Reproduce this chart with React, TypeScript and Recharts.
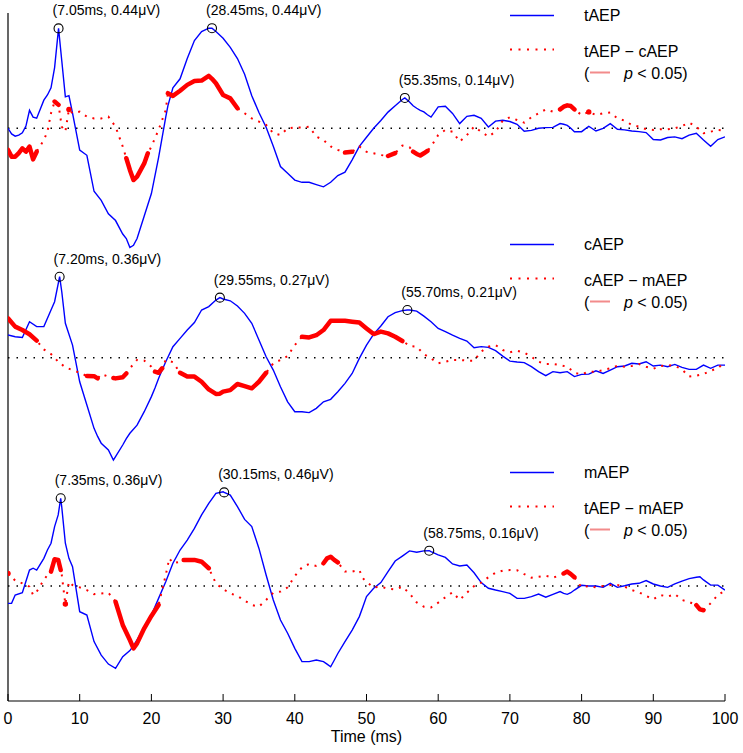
import { ComposedChart, Line, XAxis, YAxis, ReferenceLine, ReferenceDot } from "recharts";
import { JSX } from "react";

// ---- panel 1: tAEP and tAEP - cAEP ----
const p1Time = [
  0, 0.5, 1, 1.5, 2, 2.5, 3, 3.5, 4, 5, 5.5, 6, 6.5, 7.05, 7.5, 8, 8.5, 9,
  10, 11, 12, 13, 14, 15, 16, 16.5, 17, 17.5, 18, 19, 19.5, 20, 21, 22, 22.3,
  23, 24, 25, 26, 27, 28, 28.45, 29, 30, 31, 32, 33, 34, 35, 36, 37, 38, 39, 40,
  41, 42, 43, 44, 45, 46, 47, 48, 49, 50, 51, 52, 53, 54, 55, 55.35, 56, 56.5, 57, 57.5, 58, 58.5, 59, 60,
  61, 62, 63, 64, 65, 66, 67, 68, 69, 70, 71, 72, 73, 74, 75, 76,
  77, 77.5, 78, 78.5, 79, 80, 81, 82, 83, 84, 85, 86, 87, 88, 89, 90, 91, 92, 93, 94, 95, 96, 97, 98, 99, 100,
];
const p1tAEP = [
  0.0, -0.025, -0.035, -0.03, -0.02, 0.01, 0.08, 0.05, 0.045, 0.125, 0.148, 0.18, 0.27, 0.444, 0.3, 0.14, 0.145, 0.067,
  -0.097, -0.12, -0.28, -0.32, -0.38, -0.41, -0.47, -0.49, -0.53, -0.52, -0.49, -0.39, -0.34, -0.29, -0.13, 0.05, 0.1,
  0.18, 0.22, 0.31, 0.39, 0.43, 0.445, 0.445, 0.43, 0.4, 0.36, 0.31, 0.24, 0.145, 0.07, 0.005, -0.08, -0.17, -0.2, -0.23,
  -0.24, -0.24, -0.25, -0.26, -0.24, -0.21, -0.195, -0.14, -0.08, -0.04, 0.0, 0.035, 0.072, 0.1, 0.128, 0.135, 0.117, 0.1, 0.089, 0.08, 0.073, 0.06, 0.05, 0.095,
  0.098, 0.066, 0.021, 0.053, 0.058, 0.044, 0.006, 0.032, 0.036, 0.03, 0.018, -0.013, -0.009, 0.0, 0.003, 0.004,
  0.021, 0.018, 0.013, 0.0, -0.015, -0.015, 0.009, -0.012, 0.0, 0.021, -0.004, -0.007, -0.012, -0.015, -0.019, -0.05, -0.052, -0.041, -0.038, -0.046, -0.03, -0.022, -0.052, -0.08, -0.05, -0.038,
];
const p1Diff = [
  -0.096, -0.126, -0.126, -0.11, -0.089, -0.104, -0.081, -0.138, -0.104, -0.052, -0.015, 0.067, 0.119, 0.104, 0.007, -0.015, 0.084, 0.067,
  0.074, 0.052, 0.044, 0.044, 0.052, 0.007, -0.081, -0.133, -0.185, -0.23, -0.215, -0.156, -0.111, -0.081, -0.007, 0.081, 0.156,
  0.144, 0.167, 0.193, 0.21, 0.212, 0.233, 0.22, 0.2, 0.148, 0.133, 0.089, 0.067, 0.044, 0.03, 0.015, -0.022, -0.03, 0.0, 0.004,
  0.004, 0.007, -0.037, -0.052, -0.081, -0.096, -0.108, -0.104, -0.081, -0.104, -0.111, -0.119, -0.123, -0.11, -0.077, -0.079, -0.084, -0.104, -0.114, -0.121, -0.111, -0.1, -0.081, -0.03,
  -0.007, -0.015, -0.059, -0.03, 0.007, -0.015, -0.037, -0.015, 0.034, 0.049, 0.037, 0.025, 0.049, 0.067, 0.084, 0.074,
  0.084, 0.096, 0.102, 0.099, 0.084, 0.059, 0.073, 0.059, 0.067, 0.07, 0.044, 0.034, 0.015, 0.007, -0.004, -0.007, -0.004, -0.004, 0.0, 0.01, 0.025, 0.007, -0.022, -0.015, -0.007, -0.01,
];
const p1Sig = [[0, 4], [6.5, 7.05], [8.5, 8.5], [16.5, 19.5], [22.3, 32], [47, 48], [53, 54], [56.5, 58.5], [77, 79], [81, 81]];
const p1PeakTimes = [7.05, 28.45, 55.35];
const p1PeakLabels = ["(7.05ms, 0.44\u03bcV)", "(28.45ms, 0.44\u03bcV)", "(55.35ms, 0.14\u03bcV)"];

// ---- panel 2: cAEP and cAEP - mAEP ----
const p2Time = [
  0, 1, 2, 3, 4, 5, 6, 6.5, 7.2, 7.5, 8, 9,
  10, 11, 12, 12.5, 13, 14, 14.7, 15, 16, 16.5, 17, 18, 19, 20, 20.5, 21, 21.5, 22,
  23, 24, 25, 26, 27, 28, 29, 29.55, 30, 31, 32, 33, 34, 35, 36, 37, 38, 39, 40,
  41, 42, 43, 44, 45, 46, 47, 48, 49, 50, 51, 52, 53, 54, 55, 55.7, 56, 57, 58, 59, 60,
  61, 62, 63, 64, 65, 66, 67, 68, 69, 70, 71, 72, 73, 74, 75, 76, 77, 78, 79, 80,
  81, 82, 83, 84, 85, 86, 87, 88, 89, 90, 91, 92, 93, 94, 95, 96, 97, 98, 99, 100,
];
const p2cAEP = [
  0.101, 0.093, 0.09, 0.16, 0.138, 0.138, 0.212, 0.249, 0.36, 0.293, 0.153, 0.056,
  -0.107, -0.21, -0.314, -0.35, -0.38, -0.41, -0.455, -0.44, -0.388, -0.36, -0.336, -0.3, -0.24, -0.173, -0.135, -0.092, -0.055, -0.018,
  0.049, 0.086, 0.123, 0.156, 0.212, 0.227, 0.256, 0.267, 0.261, 0.253, 0.23, 0.197, 0.153, 0.079, 0.004, -0.055, -0.129, -0.196, -0.24,
  -0.24, -0.244, -0.225, -0.196, -0.185, -0.151, -0.114, -0.07, -0.003, 0.056, 0.105, 0.141, 0.182, 0.2, 0.209, 0.212, 0.212, 0.207, 0.185, 0.16, 0.13,
  0.116, 0.1, 0.086, 0.074, 0.044, 0.049, 0.046, 0.031, 0.007, -0.015, -0.019, -0.022, -0.04, -0.062, -0.08, -0.062, -0.067, -0.062, -0.084, -0.074,
  -0.073, -0.058, -0.07, -0.055, -0.04, -0.037, -0.025, -0.028, -0.018, -0.037, -0.033, -0.04, -0.03, -0.043, -0.052, -0.052, -0.033, -0.047, -0.033, -0.033,
];
const p2Diff = [
  0.175, 0.138, 0.123, 0.104, 0.076, 0.037, 0.016, 0.0, -0.025, -0.03, -0.043, -0.055,
  -0.067, -0.081, -0.082, -0.092, -0.073, -0.084, -0.09, -0.092, -0.087, -0.07, -0.047, -0.01, -0.013, -0.04, -0.062, -0.067, -0.047, -0.01,
  -0.02, -0.067, -0.084, -0.084, -0.107, -0.141, -0.161, -0.16, -0.151, -0.144, -0.117, -0.126, -0.136, -0.107, -0.067, -0.025, -0.01, 0.007, 0.056,
  0.093, 0.09, 0.1, 0.123, 0.164, 0.164, 0.164, 0.16, 0.156, 0.13, 0.105, 0.116, 0.108, 0.093, 0.074, 0.06, 0.052, 0.049, 0.016, -0.003, -0.025,
  -0.018, -0.01, -0.01, -0.013, -0.013, 0.027, 0.049, 0.056, 0.034, 0.024, 0.031, 0.022, 0.004, -0.018, -0.028, -0.028, -0.033, -0.04, -0.067, -0.074,
  -0.062, -0.062, -0.055, -0.047, -0.036, -0.04, -0.037, -0.028, -0.04, -0.049, -0.037, -0.033, -0.036, -0.052, -0.084, -0.08, -0.073, -0.058, -0.047, -0.018,
];
const p2Sig = [[0, 4], [11, 12], [12.5, 12.5], [14.7, 16.5], [20.5, 21.5], [24, 36], [41, 55]];
const p2PeakTimes = [7.2, 29.55, 55.7];
const p2PeakLabels = ["(7.20ms, 0.36\u03bcV)", "(29.55ms, 0.27\u03bcV)", "(55.70ms, 0.21\u03bcV)"];

// ---- panel 3: mAEP and tAEP - mAEP ----
const p3Time = [
  0, 0.5, 1, 2, 3, 3.5, 4, 5, 5.5, 6, 6.5, 7, 7.35, 7.5, 8, 8.5, 9,
  10, 11, 12, 13, 14, 15, 16, 17, 17.5, 18, 19, 20, 21, 22, 22.5,
  23, 24, 24.5, 25, 26, 27, 28, 29, 30, 30.15, 31, 32, 33, 34, 35, 36, 37, 38, 39, 40,
  41, 42, 43, 44, 44.5, 45, 45.5, 46, 47, 48, 49, 49.5, 50,
  51, 52, 53, 54, 55, 56, 57, 58, 58.75, 59, 60, 61, 62, 63, 64, 65, 66, 67, 68, 69, 70, 71, 72, 73, 74, 75, 76, 77,
  77.5, 78, 78.5, 79, 80, 81, 82, 83, 84, 85, 86, 87, 88, 89, 90, 91, 92, 93, 94, 95, 96, 96.5, 97, 98, 99, 100,
];
const p3mAEP = [
  -0.077, -0.077, -0.04, -0.03, 0.071, 0.079, 0.071, 0.123, 0.16, 0.19, 0.264, 0.316, 0.39, 0.35, 0.19, 0.123, 0.086,
  -0.114, -0.129, -0.247, -0.307, -0.347, -0.366, -0.314, -0.287, -0.265, -0.24, -0.181, -0.129, -0.055, 0.019, 0.06,
  0.101, 0.16, 0.182, 0.204, 0.256, 0.316, 0.367, 0.412, 0.419, 0.416, 0.404, 0.353, 0.296, 0.264, 0.167, 0.049, -0.062, -0.151, -0.21, -0.277,
  -0.336, -0.336, -0.329, -0.336, -0.347, -0.359, -0.33, -0.3, -0.247, -0.196, -0.136, -0.092, -0.047,
  -0.01, 0.015, 0.064, 0.111, 0.133, 0.156, 0.15, 0.156, 0.157, 0.153, 0.138, 0.127, 0.098, 0.089, 0.093, 0.059, 0.015, -0.01, -0.018, -0.025, -0.033, -0.055, -0.055, -0.047, -0.036, -0.05, -0.037, -0.025,
  -0.033, -0.037, -0.03, -0.018, 0.003, 0.0, 0.0, -0.006, 0.012, -0.006, 0.001, 0.009, 0.012, 0.024, 0.009, 0.0, -0.006, 0.009, 0.022, 0.033, 0.039, 0.041, 0.027, 0.004, 0.004, -0.018,
];
const p3Diff = [
  0.056, 0.041, 0.024, 0.012, -0.003, -0.04, -0.025, 0.027, 0.049, 0.064, 0.119, 0.116, 0.071, 0.049, -0.08, 0.019, 0.004,
  -0.006, -0.018, -0.036, -0.033, -0.03, -0.07, -0.173, -0.24, -0.277, -0.255, -0.188, -0.133, -0.084, 0.049, 0.123,
  0.101, 0.108, 0.116, 0.116, 0.116, 0.108, 0.079, 0.012, -0.015, -0.017, -0.033, -0.044, -0.065, -0.084, -0.092, -0.062, -0.03, -0.025, -0.006, 0.044,
  0.083, 0.098, 0.089, 0.101, 0.123, 0.13, 0.116, 0.105, 0.064, 0.064, 0.071, 0.034, 0.019,
  -0.007, -0.003, -0.012, -0.015, -0.003, -0.033, -0.073, -0.092, -0.095, -0.095, -0.074, -0.05, -0.028, -0.062, -0.03, 0.0, 0.015, 0.039, 0.059, 0.068, 0.071, 0.07, 0.053, 0.037, 0.041, 0.046, 0.037, 0.047,
  0.056, 0.064, 0.053, 0.039, -0.006, 0.0, -0.006, 0.0, 0.004, 0.004, -0.003, -0.018, -0.028, -0.044, -0.059, -0.04, -0.047, -0.036, -0.062, -0.071, -0.085, -0.104, -0.108, -0.077, -0.04, -0.021,
];
const p3Sig = [[0, 0], [6, 7.35], [8, 8], [15, 21], [24.5, 28], [44, 46], [77.5, 79], [96, 97]];
const p3PeakTimes = [7.35, 30.15, 58.75];
const p3PeakLabels = ["(7.35ms, 0.36\u03bcV)", "(30.15ms, 0.46\u03bcV)", "(58.75ms, 0.16\u03bcV)"];

const legendNames = [
  ["tAEP", "tAEP \u2212 cAEP"],
  ["cAEP", "cAEP \u2212 mAEP"],
  ["mAEP", "tAEP \u2212 mAEP"],
];
const xTicks = [0, 10, 20, 30, 40, 50, 60, 70, 80, 90, 100];

// layout (page pixels, the svg sits at 0,0)
const W = 743;
const H = 753;
const MARGIN = { top: 13, right: 18, left: 8, bottom: 0 };
const X_AXIS_H = 52;
const PLOT_H = H - MARGIN.top - MARGIN.bottom - X_AXIS_H;
const PX_PER_UV = 225;
const BASELINES = [115.3, 344.7, 573]; // zero line of each panel, px below plot top
const LEGEND_Y = [21, 250, 478];
const FONT = "'Liberation Sans', Arial, Helvetica, sans-serif";

type Row = { t: number; aep: number; diff: number; sig: number | null };

function buildRows(time: number[], aep: number[], diff: number[], sig: number[][]): Row[] {
  return time.map((t, i) => ({
    t,
    aep: aep[i],
    diff: diff[i],
    sig: sig.some(([a, b]) => t >= a && t <= b) ? diff[i] : null,
  }));
}

const panels = [
  { id: "p1", rows: buildRows(p1Time, p1tAEP, p1Diff, p1Sig), peaks: p1PeakTimes, labels: p1PeakLabels },
  { id: "p2", rows: buildRows(p2Time, p2cAEP, p2Diff, p2Sig), peaks: p2PeakTimes, labels: p2PeakLabels },
  { id: "p3", rows: buildRows(p3Time, p3mAEP, p3Diff, p3Sig), peaks: p3PeakTimes, labels: p3PeakLabels },
];

function domainFor(offset: number): [number, number] {
  const max = offset / PX_PER_UV;
  return [max - PLOT_H / PX_PER_UV, max];
}

function TimeTick(props: any): JSX.Element {
  const { x, y, payload } = props;
  return (
    <g>
      <line x1={x} x2={x} y1={y} y2={y - 7} stroke="#000" strokeWidth={1} />
      <text x={x} y={y + 23} textAnchor="middle" fontSize={16} fontFamily={FONT} fill="#000">
        {payload.value}
      </text>
    </g>
  );
}

function peakShape(label: string) {
  return (p: any) => (
    <g>
      <circle cx={p.cx} cy={p.cy} r={4.5} fill="none" stroke="#000" strokeWidth={1.1} />
      <text x={p.cx - 6} y={p.cy - 13} fontSize={14} fontFamily={FONT} fill="#000">
        {label}
      </text>
    </g>
  );
}

// single significant samples get a round blob, runs are drawn by the line itself
function sigDot(rows: Row[]) {
  return (p: any) => {
    const i = p.index;
    const r = rows[i];
    const alone = r && r.sig != null && rows[i - 1]?.sig == null && rows[i + 1]?.sig == null;
    if (!alone || p.cx == null || p.cy == null) return <g key={`s${i}`} />;
    return <circle key={`s${i}`} cx={p.cx} cy={p.cy} r={2.7} fill="#ff0000" />;
  };
}

function LegendBlock({ top, names }: { top: number; names: string[] }): JSX.Element {
  return (
    <g fontFamily={FONT} fontSize={16} fill="#000">
      <line x1={510} x2={554} y1={top - 5.5} y2={top - 5.5} stroke="#0000ff" strokeWidth={1.5} />
      <text x={584} y={top}>{names[0]}</text>
      <line x1={510} x2={554} y1={top + 28.5} y2={top + 28.5} stroke="#ff0000" strokeWidth={2} strokeDasharray="2 6.5" />
      <text x={584} y={top + 36}>{names[1]}</text>
      <text x={584} y={top + 57.5}>(</text>
      <line x1={590} x2={610} y1={top + 51.5} y2={top + 51.5} stroke="#f28b8b" strokeWidth={2} />
      <text x={624} y={top + 57.5}>
        <tspan fontStyle="italic">p</tspan>
        {" < 0.05)"}
      </text>
    </g>
  );
}

export default function App(): JSX.Element {
  return (
    <div style={{ position: "absolute", left: 0, top: 0, width: W, height: H }}>
      <ComposedChart width={W} height={H} margin={MARGIN}>
        <XAxis
          dataKey="t"
          type="number"
          domain={[0, 100]}
          ticks={xTicks}
          allowDataOverflow
          height={X_AXIS_H}
          axisLine={{ stroke: "#000", strokeWidth: 1.2 }}
          tickLine={false}
          tickSize={0}
          tickMargin={0}
          tick={<TimeTick />}
          interval={0}
        />
        {panels.map((p, k) => (
          <YAxis key={p.id} yAxisId={p.id} type="number" domain={domainFor(BASELINES[k])} allowDataOverflow hide />
        ))}
        <ReferenceLine x={0} yAxisId="p1" stroke="#000" strokeWidth={1.2} />
        {panels.map((p) => (
          <ReferenceLine key={`z${p.id}`} y={0} yAxisId={p.id} stroke="#000" strokeWidth={1.5} strokeDasharray="1.5 7" />
        ))}
        {panels.map((p) => (
          <Line
            key={`a${p.id}`}
            data={p.rows}
            dataKey="aep"
            yAxisId={p.id}
            type="linear"
            stroke="#0000ff"
            strokeWidth={1.4}
            dot={false}
            activeDot={false}
            isAnimationActive={false}
          />
        ))}
        {panels.map((p) => (
          <Line
            key={`d${p.id}`}
            data={p.rows}
            dataKey="diff"
            yAxisId={p.id}
            type="linear"
            stroke="#ff0000"
            strokeWidth={2}
            strokeDasharray="2 6"
            dot={false}
            activeDot={false}
            isAnimationActive={false}
          />
        ))}
        {panels.map((p) => (
          <Line
            key={`s${p.id}`}
            data={p.rows}
            dataKey="sig"
            yAxisId={p.id}
            type="linear"
            stroke="#ff0000"
            strokeWidth={4.5}
            strokeLinecap="round"
            strokeLinejoin="round"
            connectNulls={false}
            dot={sigDot(p.rows)}
            activeDot={false}
            isAnimationActive={false}
          />
        ))}
        {panels.map((p) =>
          p.peaks.map((t, j) => {
            const row = p.rows.find((r) => r.t === t);
            return (
              <ReferenceDot
                key={`pk${p.id}${j}`}
                x={t}
                y={row ? row.aep : 0}
                yAxisId={p.id}
                r={4.5}
                shape={peakShape(p.labels[j])}
              />
            );
          })
        )}
        {legendNames.map((names, k) => (
          <LegendBlock key={`lg${k}`} top={LEGEND_Y[k]} names={names} />
        ))}
        <text x={366.5} y={742} textAnchor="middle" fontSize={16} fontFamily={FONT} fill="#000">
          Time (ms)
        </text>
      </ComposedChart>
    </div>
  );
}
